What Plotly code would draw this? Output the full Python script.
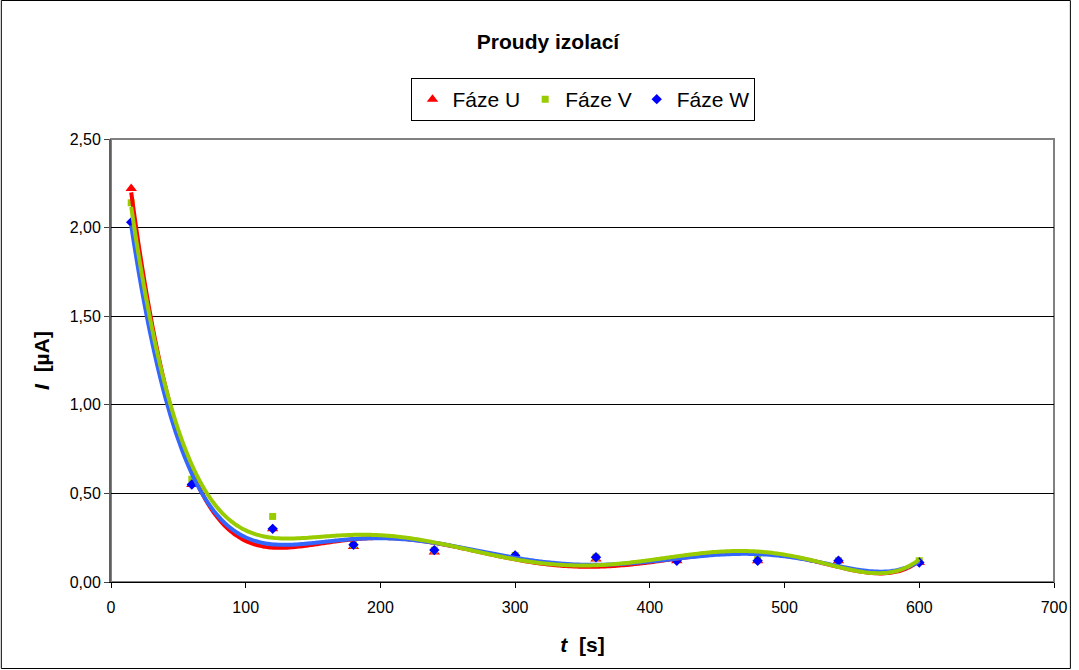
import numpy as np
import plotly.graph_objects as go

t = [15, 60, 120, 180, 240, 300, 360, 420, 480, 540, 600]
faze_u = [2.22, 0.55, 0.30, 0.20, 0.17, 0.15, 0.13, 0.12, 0.12, 0.12, 0.11]
faze_v = [2.14, 0.58, 0.37, 0.21, 0.18, 0.15, 0.14, 0.13, 0.13, 0.12, 0.12]
faze_w = [2.03, 0.55, 0.30, 0.21, 0.18, 0.15, 0.14, 0.12, 0.12, 0.12, 0.11]

series = [
    ("Fáze U", faze_u, "#FF0000", "triangle-up", 10, "#FF0000"),
    ("Fáze V", faze_v, "#99CC00", "square", 7, "#99CC00"),
    ("Fáze W", faze_w, "#0000FF", "diamond", 8, "#3366FF"),
]

fig = go.Figure()
for name, ys, mc, sym, sz, lc in series:
    fig.add_trace(go.Scatter(x=t, y=ys, mode="markers", name=name,
                             marker=dict(color=mc, symbol=sym, size=sz, line=dict(width=0))))

xs = np.linspace(min(t), max(t), 300)
for idx in [0, 2, 1]:
    name, ys, mc, sym, sz, lc = series[idx]
    p = np.polynomial.Polynomial.fit(t, ys, 6)
    fig.add_trace(go.Scatter(x=xs, y=p(xs), mode="lines", showlegend=False,
                             line=dict(color=lc, width=4, shape="spline"), hoverinfo="skip"))

W, H = 1079, 670
ml, mr, mt, mb = 111, 18, 139, 88
pw, ph = W - ml - mr, H - mt - mb

fig.update_layout(
    width=W, height=H,
    margin=dict(l=ml, r=mr, t=mt, b=mb),
    paper_bgcolor="white", plot_bgcolor="white",
    separators=", ",
    font=dict(family="Liberation Sans, Arial, sans-serif", color="black", size=16),
    title=dict(text="<b>Proudy izolací</b>", x=548 / W, xanchor="center",
               y=1 - 42 / H, yanchor="middle", font=dict(size=21)),
    legend=dict(orientation="h", x=(587 - ml) / pw, xanchor="center",
                y=1 + (139 - 78) / ph, yanchor="top",
                bordercolor="black", borderwidth=1, font=dict(size=21),
                itemsizing="trace", tracegroupgap=0, itemwidth=30),
    xaxis=dict(range=[0, 700], dtick=100, tick0=0, showgrid=False, zeroline=False,
               showline=True, linecolor="black", linewidth=1,
               ticks="outside", ticklen=5, tickcolor="black", ticklabelstandoff=6,
               tickfont=dict(size=16, family="Liberation Sans Narrow, Arial Narrow, Liberation Sans, sans-serif"),
               title=dict(text="<b><i>t</i>  [s]</b>", font=dict(size=21), standoff=22)),
    yaxis=dict(range=[0, 2.5], dtick=0.5, tick0=0, tickformat=".2f",
               showgrid=True, gridcolor="black", gridwidth=1, zeroline=False,
               showline=True, linecolor="#606060", linewidth=2,
               ticks="outside", ticklen=5, tickcolor="#404040",
               tickfont=dict(size=16),
               title=dict(text="<b><i>I</i>  [µA]</b>", font=dict(size=21), standoff=14)),
    shapes=[
        dict(type="rect", xref="paper", yref="paper", x0=0, x1=1, y0=0, y1=1,
             line=dict(color="#808080", width=2), layer="below"),
        dict(type="rect", xref="paper", yref="paper",
             x0=-(ml - 0.5) / pw, x1=1 + (mr - 1.5) / pw,
             y0=-(mb - 1.5) / ph, y1=1 + (mt - 0.5) / ph,
             line=dict(color="black", width=1)),
    ],
)

fig.write_html("out.html")
